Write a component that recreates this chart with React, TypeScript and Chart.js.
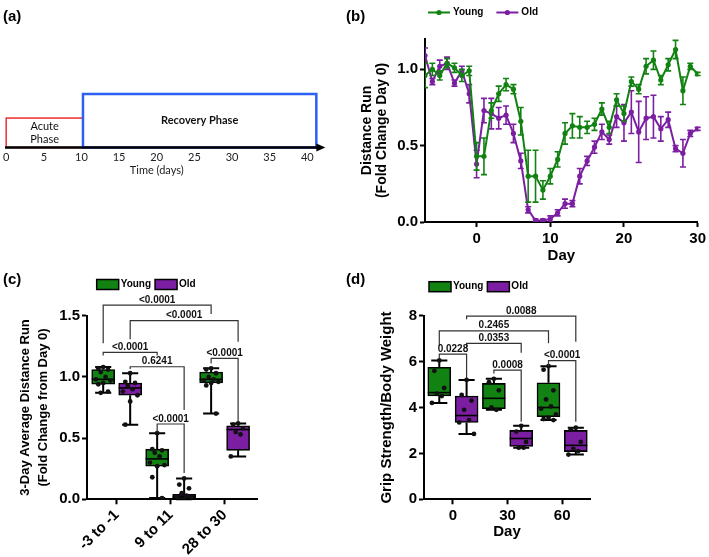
import React, { useEffect, useRef } from 'react';
import { Chart, registerables } from 'chart.js';

Chart.register(...registerables);

const FONT = "'Liberation Sans', Arial, sans-serif";
const DIAG_FONT = "Lato, 'Open Sans', sans-serif";
const GREEN = '#128212';
const PURPLE = '#7c1ea2';
const W = 709;
const H = 557;

// ---------- (a) timeline ----------
const timeTicks = [0, 5, 10, 15, 20, 25, 30, 35, 40];
const timeAxisStart = -0.15;
const timeAxisEnd = 42.4;
const phaseLabels = [['Acute', 'Phase'], ['Recovery Phase']];
const phaseStart = [0, 10.2];
const phaseEnd = [10.2, 41.2];
const phaseHeight = [0.55, 1];
const phaseColor = ['#e8302e', '#2c5ff2'];
const phaseBold = [false, true];

// ---------- (b) distance run ----------
const days = [-7, -6, -5, -4, -3, -2, -1, 0, 1, 2, 3, 4, 5, 6, 7, 8, 9, 10, 11, 12, 13, 14, 15, 16, 17, 18, 19, 20, 21, 22, 23, 24, 25, 26, 27, 28, 29, 30];
const youngMean = [0.96, 1.0, 0.96, 1.04, 1.01, 0.96, 0.99, 0.43, 0.43, 0.73, 0.84, 0.9, 0.87, 0.66, 0.3, 0.3, 0.21, 0.3, 0.41, 0.58, 0.63, 0.62, 0.62, 0.64, 0.74, 0.62, 0.8, 0.71, 0.92, 0.87, 1.02, 1.06, 0.93, 1.03, 1.13, 0.86, 1.02, 0.97];
const youngSem = [0.08, 0.04, 0.03, 0.03, 0.03, 0.04, 0.03, 0.09, 0.12, 0.05, 0.05, 0.04, 0.03, 0.09, 0.17, 0.17, 0.06, 0.05, 0.05, 0.07, 0.08, 0.07, 0.04, 0.04, 0.04, 0.04, 0.04, 0.05, 0.03, 0.03, 0.05, 0.06, 0.03, 0.04, 0.06, 0.09, 0.02, 0.01];
const oldMean = [1.09, 0.92, 1.02, 1.04, 0.91, 0.99, 0.84, 0.38, 0.73, 0.71, 0.68, 0.7, 0.58, 0.4, 0.08, 0.01, 0.01, 0.02, 0.06, 0.12, 0.12, 0.3, 0.4, 0.49, 0.59, 0.54, 0.69, 0.65, 0.72, 0.59, 0.68, 0.69, 0.61, 0.67, 0.48, 0.45, 0.58, 0.61];
const oldSem = [0.05, 0.02, 0.04, 0.04, 0.02, 0.03, 0.06, 0.09, 0.08, 0.1, 0.07, 0.06, 0.06, 0.05, 0.02, 0.01, 0.01, 0.02, 0.02, 0.03, 0.02, 0.05, 0.03, 0.04, 0.05, 0.03, 0.07, 0.12, 0.14, 0.2, 0.14, 0.14, 0.08, 0.05, 0.02, 0.09, 0.02, 0.01];
const runXTicks = [0, 10, 20, 30];
const runYTicks = [0, 0.5, 1.0];

// ---------- (c) 3-day average ----------
const avgGroups = ['-3 to -1', '9 to 11', '28 to 30'];
// [min, q1, median, q3, max]
const avgYoungBox = [[0.87, 0.94, 0.98, 1.06, 1.08], [0.01, 0.27, 0.33, 0.41, 0.54], [0.7, 0.95, 0.98, 1.04, 1.07]];
const avgOldBox = [[0.61, 0.85, 0.91, 0.95, 1.03], [0.0, 0.005, 0.02, 0.04, 0.17], [0.35, 0.4, 0.57, 0.6, 0.62]];
const avgYoungPts = [
  [1.08, 1.07, 1.06, 1.04, 1.0, 0.98, 0.97, 0.95, 0.94, 0.88, 0.87],
  [0.54, 0.41, 0.4, 0.38, 0.35, 0.3, 0.28, 0.27, 0.18, 0.01],
  [1.07, 1.06, 1.03, 1.0, 0.98, 0.97, 0.96, 0.95, 0.93, 0.7],
];
const avgOldPts = [
  [1.03, 0.96, 0.95, 0.93, 0.9, 0.88, 0.85, 0.8, 0.61],
  [0.17, 0.12, 0.09, 0.05, 0.03, 0.02, 0.01, 0.0, 0.0],
  [0.62, 0.61, 0.58, 0.55, 0.53, 0.35],
];
const avgYTicks = [0, 0.5, 1.0, 1.5];
const avgBrackets = [
  { a: 0, b: 4, y: 1.587, ya: 1.274, yb: 1.514, text: '<0.0001' },
  { a: 1, b: 5, y: 1.459, ya: 1.307, yb: 1.288, text: '<0.0001' },
  { a: 0, b: 2, y: 1.2, ya: 1.175, yb: 1.175, text: '<0.0001' },
  { a: 1, b: 3, y: 1.083, ya: 1.065, yb: 0.73, text: '0.6241' },
  { a: 2, b: 3, y: 0.615, ya: 0.545, yb: 0.215, text: '<0.0001' },
  { a: 4, b: 5, y: 1.152, ya: 1.11, yb: 0.634, text: '<0.0001' },
];

// ---------- (d) grip strength ----------
const gripGroups = ['0', '30', '60'];
const gripYoungBox = [[4.2, 4.5, 4.65, 5.75, 6.05], [3.9, 3.95, 4.4, 5.05, 5.25], [3.45, 3.6, 4.0, 5.08, 5.8]];
const gripOldBox = [[2.85, 3.35, 3.65, 4.5, 5.2], [2.25, 2.3, 2.65, 3.0, 3.2], [1.95, 2.08, 2.35, 3.0, 3.12]];
const gripYoungPts = [
  [6.05, 5.6, 4.85, 4.6, 4.5, 4.2],
  [5.25, 5.1, 4.75, 4.0, 3.9],
  [5.8, 5.65, 4.75, 4.35, 4.05, 3.95, 3.7, 3.55, 3.5, 3.45],
];
const gripOldPts = [
  [5.2, 4.55, 4.3, 3.9, 3.45, 3.35, 2.85],
  [3.2, 2.95, 2.5, 2.25, 2.25],
  [3.12, 3.05, 2.5, 2.2, 2.1, 1.95],
];
const gripYTicks = [0, 2, 4, 6, 8];
const gripBrackets = [
  { a: 1, b: 5, y: 7.98, ya: 7.84, yb: 6.86, text: '0.0088' },
  { a: 0, b: 4, y: 7.34, ya: 6.68, yb: 6.8, text: '0.2465' },
  { a: 1, b: 3, y: 6.79, ya: 6.62, yb: 6.39, text: '0.0353' },
  { a: 0, b: 1, y: 6.33, ya: 6.15, yb: 5.27, text: '0.0228' },
  { a: 2, b: 3, y: 5.63, ya: 5.48, yb: 3.38, text: '0.0008' },
  { a: 4, b: 5, y: 6.04, ya: 5.8, yb: 3.38, text: '<0.0001' },
];

const seriesNames = ['Young', 'Old'];
const seriesColors = [GREEN, PURPLE];

// ---------- shared styles ----------
const bold = (size: number, lineHeight = 1.2) => ({ family: FONT, size, weight: 'bold' as const, lineHeight });
const axisGrid = { display: true, drawOnChartArea: false, drawTicks: true, tickLength: 5, tickWidth: 2, tickColor: '#000', offset: false };
const axisBorder = { display: true, color: '#000', width: 2 };
const setTicks = (vals: number[]) => (s: any) => { s.ticks = vals.map((v) => ({ value: v })); };

// ---------- (a) config ----------
function timelineConfig(): any {
  const phasePlugin = {
    id: 'phases',
    afterDraw(chart: any) {
      const { ctx, scales } = chart;
      const x = scales.x, y = scales.y;
      ctx.save();
      phaseStart.forEach((s, i) => {
        const x1 = x.getPixelForValue(s), x2 = x.getPixelForValue(phaseEnd[i]);
        const y0 = y.getPixelForValue(0), y1 = y.getPixelForValue(phaseHeight[i]);
        ctx.strokeStyle = phaseColor[i];
        ctx.lineWidth = i === 0 ? 1.5 : 2.5;
        ctx.strokeRect(x1, y1, x2 - x1, y0 - y1);
        ctx.fillStyle = '#111';
        ctx.font = `${phaseBold[i] ? 'bold ' : ''}11px ${DIAG_FONT}`;
        ctx.textAlign = 'center';
        ctx.textBaseline = 'middle';
        const lines = phaseLabels[i];
        const cx = (x1 + x2) / 2, cy = (y0 + y1) / 2;
        lines.forEach((t, k) => ctx.fillText(t, cx, cy + (k - (lines.length - 1) / 2) * 13));
      });
      // baseline arrow
      const y0 = y.getPixelForValue(0);
      const xa = x.getPixelForValue(timeAxisStart), xb = x.getPixelForValue(timeAxisEnd);
      ctx.strokeStyle = '#000';
      ctx.lineWidth = 2.5;
      ctx.beginPath();
      ctx.moveTo(xa, y0);
      ctx.lineTo(xb - 5, y0);
      ctx.stroke();
      ctx.fillStyle = '#000';
      ctx.beginPath();
      ctx.moveTo(xb, y0);
      ctx.lineTo(xb - 9, y0 - 4);
      ctx.lineTo(xb - 9, y0 + 4);
      ctx.closePath();
      ctx.fill();
      ctx.restore();
    },
  };
  return {
    type: 'scatter',
    data: { datasets: [] },
    options: {
      responsive: false, animation: false, devicePixelRatio: 1,
      layout: { padding: { left: 6, top: 94, right: 401.7, bottom: 379.7 } },
      plugins: { legend: { display: false }, tooltip: { enabled: false } },
      scales: {
        x: {
          type: 'linear', min: 0, max: 40,
          afterBuildTicks: setTicks(timeTicks),
          afterFit: (s: any) => { s.height = 29.8; },
          ticks: { font: { family: DIAG_FONT, size: 11 }, color: '#222', padding: 3, maxRotation: 0 },
          grid: { display: false, drawTicks: false },
          border: { display: false },
          title: { display: true, text: 'Time (days)', font: { family: DIAG_FONT, size: 11 }, color: '#222', padding: 0 },
        },
        y: { display: false, min: 0, max: 1 },
      },
    },
    plugins: [phasePlugin],
  };
}

// ---------- (b) config ----------
function runConfig(): any {
  const means = [youngMean, oldMean];
  const sems = [youngSem, oldSem];
  const errorBars = {
    id: 'errorBars',
    afterDatasetDraw(chart: any, args: any) {
      const i = args.index;
      const { ctx, scales, chartArea } = chart;
      ctx.save();
      ctx.beginPath();
      ctx.rect(chartArea.left, chartArea.top - 20, chartArea.right - chartArea.left + 10, chartArea.bottom - chartArea.top + 20);
      ctx.clip();
      ctx.strokeStyle = seriesColors[i];
      ctx.lineWidth = 1.6;
      days.forEach((d, k) => {
        const px = scales.x.getPixelForValue(d);
        const y1 = scales.y.getPixelForValue(means[i][k] - sems[i][k]);
        const y2 = scales.y.getPixelForValue(means[i][k] + sems[i][k]);
        ctx.beginPath();
        ctx.moveTo(px, y1); ctx.lineTo(px, y2);
        ctx.moveTo(px - 3, y1); ctx.lineTo(px + 3, y1);
        ctx.moveTo(px - 3, y2); ctx.lineTo(px + 3, y2);
        ctx.stroke();
      });
      ctx.restore();
    },
  };
  const legendPlugin = {
    id: 'lineLegend',
    afterDraw(chart: any) {
      const { ctx, chartArea } = chart;
      ctx.save();
      ctx.font = `bold 10px ${FONT}`;
      ctx.textBaseline = 'middle';
      ctx.textAlign = 'left';
      let x = chartArea.left + 3;
      const y = 12.5;
      seriesNames.forEach((n, i) => {
        ctx.strokeStyle = seriesColors[i];
        ctx.fillStyle = seriesColors[i];
        ctx.lineWidth = 2;
        ctx.beginPath(); ctx.moveTo(x, y); ctx.lineTo(x + 22, y); ctx.stroke();
        ctx.beginPath(); ctx.arc(x + 11, y, 2.6, 0, Math.PI * 2); ctx.fill();
        ctx.fillStyle = '#000';
        ctx.fillText(n, x + 25, y);
        x += 25 + ctx.measureText(n).width + 13;
      });
      ctx.restore();
    },
  };
  return {
    type: 'line',
    data: {
      datasets: seriesNames.map((n, i) => ({
        label: n,
        data: days.map((d, k) => ({ x: d, y: means[i][k] })),
        borderColor: seriesColors[i],
        backgroundColor: seriesColors[i],
        borderWidth: 2,
        pointRadius: 2.6,
        pointBorderWidth: 0,
        tension: 0,
      })),
    },
    options: {
      responsive: false, animation: false, devicePixelRatio: 1,
      layout: { padding: { left: 359.6, top: 38.8, right: 10, bottom: 292 } },
      plugins: { legend: { display: false }, tooltip: { enabled: false } },
      scales: {
        x: {
          type: 'linear', min: -7, max: 30,
          afterBuildTicks: setTicks(runXTicks),
          afterFit: (s: any) => { s.height = 43; },
          ticks: { font: bold(15), color: '#000', padding: 3, maxRotation: 0 },
          grid: axisGrid, border: axisBorder,
          title: { display: true, text: 'Day', font: bold(15), color: '#000', padding: 0 },
        },
        y: {
          min: 0, max: 1.2,
          afterBuildTicks: setTicks(runYTicks),
          afterFit: (s: any) => { s.width = 65.4; },
          ticks: { font: bold(15), color: '#000', padding: 2, callback: (v: any) => Number(v).toFixed(1) },
          grid: axisGrid, border: axisBorder,
          title: { display: true, text: ['Distance Run', '(Fold Change Day 0)'], font: bold(14, 1.05), color: '#000', padding: 0 },
        },
      },
    },
    plugins: [errorBars, legendPlugin],
  };
}

// ---------- box plot config (c, d) ----------
const JIT = [0, -0.18, 0.18, -0.09, 0.09, -0.27, 0.27];

function boxConfig(p: any): any {
  const pos = (g: number, s: number) => 2 * g + s;
  const tickPos = p.groups.map((_: any, g: number) => 2 * g + 0.5);
  const boxSets = [p.youngBox, p.oldBox];
  const ptSets = [p.youngPts, p.oldPts];
  const BOXW = 23;

  const bars = boxSets.map((boxes: number[][], s: number) => ({
    type: 'bar',
    label: seriesNames[s],
    data: boxes.map((b, g) => ({ x: pos(g, s), y: [b[1], b[3]] })),
    backgroundColor: seriesColors[s],
    borderColor: '#000',
    borderWidth: 1.6,
    borderSkipped: false,
    barThickness: BOXW,
    grouped: false,
    order: 2,
  }));
  const points: any[] = [];
  ptSets.forEach((groups: number[][], s: number) =>
    groups.forEach((vals, g) => vals.forEach((v, k) => points.push({ x: pos(g, s) + JIT[k % JIT.length], y: v }))));
  const scatter = {
    type: 'scatter', label: 'points', data: points,
    pointRadius: 2.4, pointBorderWidth: 0, backgroundColor: '#111', order: 0,
  };

  const boxParts = {
    id: 'boxParts',
    beforeDatasetsDraw(chart: any) {
      const { ctx, scales } = chart;
      ctx.save();
      ctx.strokeStyle = '#000';
      ctx.lineWidth = 2;
      boxSets.forEach((boxes: number[][], s: number) => boxes.forEach((b, g) => {
        const cx = scales.x.getPixelForValue(pos(g, s));
        const yMin = scales.y.getPixelForValue(b[0]);
        const yQ1 = scales.y.getPixelForValue(b[1]);
        const yQ3 = scales.y.getPixelForValue(b[3]);
        const yMax = scales.y.getPixelForValue(b[4]);
        const cw = BOXW * 0.35;
        ctx.beginPath();
        ctx.moveTo(cx, yMin); ctx.lineTo(cx, yQ1);
        ctx.moveTo(cx, yQ3); ctx.lineTo(cx, yMax);
        ctx.moveTo(cx - cw, yMin); ctx.lineTo(cx + cw, yMin);
        ctx.moveTo(cx - cw, yMax); ctx.lineTo(cx + cw, yMax);
        ctx.stroke();
      }));
      ctx.restore();
    },
    afterDatasetDraw(chart: any, args: any) {
      if (args.index > 1) return;
      const s = args.index;
      const { ctx, scales } = chart;
      ctx.save();
      ctx.strokeStyle = '#000';
      ctx.lineWidth = 1.6;
      boxSets[s].forEach((b: number[], g: number) => {
        const cx = scales.x.getPixelForValue(pos(g, s));
        const ym = scales.y.getPixelForValue(b[2]);
        ctx.beginPath();
        ctx.moveTo(cx - BOXW / 2, ym); ctx.lineTo(cx + BOXW / 2, ym);
        ctx.stroke();
      });
      ctx.restore();
    },
  };

  const brackets = {
    id: 'brackets',
    afterDraw(chart: any) {
      const { ctx, scales, chartArea } = chart;
      ctx.save();
      ctx.strokeStyle = '#333';
      ctx.lineWidth = 1.2;
      ctx.fillStyle = '#111';
      ctx.font = `bold 10px ${FONT}`;
      ctx.textAlign = 'center';
      ctx.textBaseline = 'alphabetic';
      p.brackets.forEach((br: any) => {
        const xa = scales.x.getPixelForValue(br.a), xb = scales.x.getPixelForValue(br.b);
        const y = scales.y.getPixelForValue(br.y);
        ctx.beginPath();
        ctx.moveTo(xa, scales.y.getPixelForValue(br.ya));
        ctx.lineTo(xa, y);
        ctx.lineTo(xb, y);
        ctx.lineTo(xb, scales.y.getPixelForValue(br.yb));
        ctx.stroke();
        ctx.fillText(br.text, (xa + xb) / 2, y - 2.5);
      });
      // legend
      ctx.font = `bold 10px ${FONT}`;
      ctx.textAlign = 'left';
      ctx.textBaseline = 'middle';
      let x = chartArea.left + p.legendDx;
      const ly = chartArea.top + p.legendDy;
      seriesNames.forEach((n, i) => {
        ctx.fillStyle = seriesColors[i];
        ctx.fillRect(x, ly - 5, 22, 10);
        ctx.strokeStyle = '#000';
        ctx.lineWidth = 1.5;
        ctx.strokeRect(x, ly - 5, 22, 10);
        ctx.fillStyle = '#000';
        ctx.fillText(n, x + 24, ly);
        x += 24 + ctx.measureText(n).width + 4;
      });
      ctx.restore();
    },
  };

  return {
    type: 'bar',
    data: { datasets: [...bars, scatter] },
    options: {
      responsive: false, animation: false, devicePixelRatio: 1,
      layout: { padding: p.padding },
      plugins: { legend: { display: false }, tooltip: { enabled: false } },
      scales: {
        x: {
          type: 'linear', min: p.xMin, max: p.xMax, offset: false,
          afterBuildTicks: setTicks(tickPos),
          afterFit: (s: any) => { s.height = p.xAxisH; },
          ticks: {
            font: bold(15), color: '#000', padding: p.xPad, autoSkip: false,
            minRotation: p.rot, maxRotation: p.rot,
            callback: (_v: any, i: number) => p.groups[i],
          },
          grid: axisGrid, border: axisBorder,
          title: p.xTitle ? { display: true, text: p.xTitle, font: bold(15), color: '#000', padding: 0 } : { display: false },
        },
        y: {
          type: 'linear', min: 0, max: p.yMax,
          afterBuildTicks: setTicks(p.yTicks),
          afterFit: (s: any) => { s.width = p.yAxisW; },
          ticks: { font: bold(15), color: '#000', padding: 2, callback: p.fmt },
          grid: axisGrid, border: axisBorder,
          title: { display: true, text: p.yTitle, font: p.yTitleFont, color: '#000', padding: 0 },
        },
      },
    },
    plugins: [boxParts, brackets],
  };
}

const avgParams = {
  groups: avgGroups, youngBox: avgYoungBox, oldBox: avgOldBox, youngPts: avgYoungPts, oldPts: avgOldPts,
  brackets: avgBrackets, yTicks: avgYTicks, yMax: 1.5, xMin: -0.6, xMax: 5.7,
  padding: { left: 16, top: 315.7, right: 452, bottom: 0 },
  xAxisH: 57.7, yAxisW: 71, rot: 45, xPad: 2,
  yTitle: ['3-Day Average Distance Run', '(Fold Change from Day 0)'], yTitleFont: bold(13, 1.4),
  fmt: (v: any) => Number(v).toFixed(1),
  legendDx: 9.7, legendDy: -31.2,
};

const gripParams = {
  groups: gripGroups, youngBox: gripYoungBox, oldBox: gripOldBox, youngPts: gripYoungPts, oldPts: gripOldPts,
  brackets: gripBrackets, yTicks: gripYTicks, yMax: 8, xMin: -0.56, xMax: 5.52,
  padding: { left: 377.7, top: 315.7, right: 119, bottom: 16.3 },
  xAxisH: 41.4, yAxisW: 46.3, rot: 0, xPad: 3, xTitle: 'Day',
  yTitle: 'Grip Strength/Body Weight', yTitleFont: bold(15),
  fmt: (v: any) => String(v),
  legendDx: 5, legendDy: -29,
};

const panelLabels = [
  { t: '(a)', x: 3, y: 7 },
  { t: '(b)', x: 346, y: 7 },
  { t: '(c)', x: 3, y: 270 },
  { t: '(d)', x: 346, y: 270 },
];

export default function App() {
  const r0 = useRef<HTMLCanvasElement>(null);
  const r1 = useRef<HTMLCanvasElement>(null);
  const r2 = useRef<HTMLCanvasElement>(null);
  const r3 = useRef<HTMLCanvasElement>(null);

  useEffect(() => {
    Chart.defaults.font.family = FONT;
    const charts = [
      new Chart(r0.current as any, timelineConfig()),
      new Chart(r1.current as any, runConfig()),
      new Chart(r2.current as any, boxConfig(avgParams)),
      new Chart(r3.current as any, boxConfig(gripParams)),
    ];
    return () => charts.forEach((c) => c.destroy());
  }, []);

  const cs: React.CSSProperties = { position: 'absolute', left: 0, top: 0, width: W, height: H };
  return (
    <div style={{ position: 'absolute', left: 0, top: 0, width: W, height: H, background: '#fff', overflow: 'hidden' }}>
      <canvas ref={r0} width={W} height={H} style={cs} />
      <canvas ref={r1} width={W} height={H} style={cs} />
      <canvas ref={r2} width={W} height={H} style={cs} />
      <canvas ref={r3} width={W} height={H} style={cs} />
      {panelLabels.map((l) => (
        <div key={l.t} style={{ position: 'absolute', left: l.x, top: l.y, font: `bold 15px ${FONT}`, color: '#000', lineHeight: '18px' }}>{l.t}</div>
      ))}
    </div>
  );
}
